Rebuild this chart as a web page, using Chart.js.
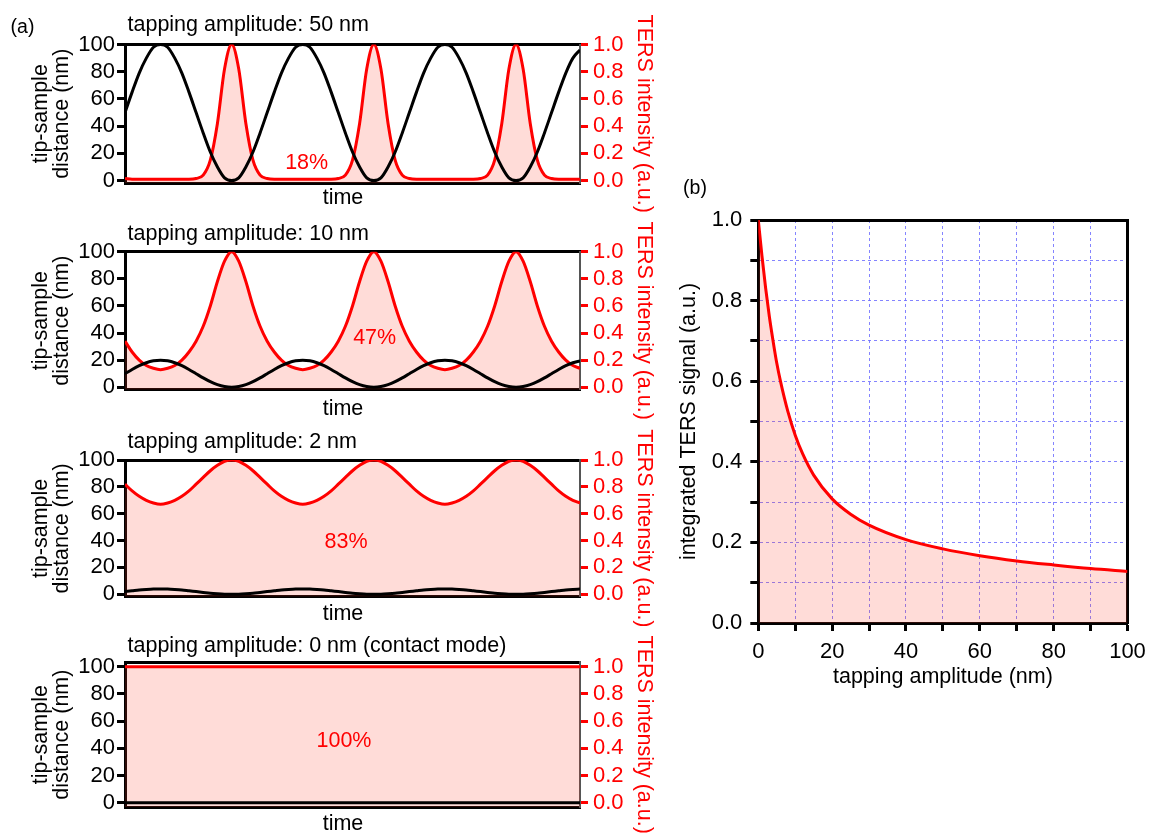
<!DOCTYPE html>
<html>
<head>
<meta charset="utf-8">
<script src="https://cdn.jsdelivr.net/npm/chart.js@4.4.0/dist/chart.umd.min.js"></script>
<style>
  body { margin: 0; background: #fff; }
  #page { position: relative; width: 1149px; height: 834px; overflow: hidden; font-family: 'Liberation Sans', Arial, Helvetica, sans-serif; }
  canvas { position: absolute; }
  .lbl { position: absolute; white-space: nowrap; line-height: 1; font-size: 21.5px; color: #000; }
  .c { transform: translate(-50%, -50%); }
  .red { color: #ff0000; }
</style>
</head>
<body>
<div id="page">
  <canvas id="p1" width="665" height="215" style="left:0;top:0"></canvas>
  <canvas id="p2" width="665" height="210" style="left:0;top:215px"></canvas>
  <canvas id="p3" width="665" height="205" style="left:0;top:425px"></canvas>
  <canvas id="p4" width="665" height="204" style="left:0;top:630px"></canvas>
  <canvas id="pb" width="490" height="530" style="left:665px;top:170px"></canvas>

  <div class="lbl c" style="left:22.5px;top:27px;font-size:19.5px">(a)</div>
  <div class="lbl c" style="left:695px;top:188px;font-size:19.5px">(b)</div>

  <div class="lbl" style="left:127.5px;top:14.3px">tapping amplitude: 50 nm</div>
  <div class="lbl" style="left:127.5px;top:223.3px">tapping amplitude: 10 nm</div>
  <div class="lbl" style="left:127.5px;top:430.8px">tapping amplitude: 2 nm</div>
  <div class="lbl" style="left:127.5px;top:635.1px">tapping amplitude: 0 nm (contact mode)</div>

  <div class="lbl c" style="left:343px;top:197.8px">time</div>
  <div class="lbl c" style="left:343px;top:409.2px">time</div>
  <div class="lbl c" style="left:343px;top:614px">time</div>
  <div class="lbl c" style="left:343px;top:823.7px">time</div>

  <div class="lbl c red" style="left:306.7px;top:162.5px">18%</div>
  <div class="lbl c red" style="left:374.7px;top:337.5px">47%</div>
  <div class="lbl c red" style="left:346px;top:542px">83%</div>
  <div class="lbl c red" style="left:344px;top:740.5px">100%</div>
</div>

<script>
// time axis (in oscillation periods)
const timeGrid = [0, 0.05, 0.1, 0.15, 0.2, 0.25, 0.3, 0.35, 0.4, 0.45, 0.5, 0.55, 0.6, 0.65, 0.7, 0.75, 0.8, 0.85, 0.9, 0.95,
    1, 1.05, 1.1, 1.15, 1.2, 1.25, 1.3, 1.35, 1.4, 1.45, 1.5, 1.55, 1.6, 1.65, 1.7, 1.75, 1.8, 1.85, 1.9, 1.95,
    2, 2.05, 2.1, 2.15, 2.2, 2.25, 2.3, 2.35, 2.4, 2.45, 2.5, 2.55, 2.6, 2.65, 2.7, 2.75, 2.8, 2.85, 2.9, 2.95,
    3, 3.05, 3.1, 3.15, 3.2];

// 50 nm tapping
const distance50 = [50, 65, 79, 90, 98, 100, 98, 90, 79, 65, 50, 35, 21, 10, 2, 0, 2, 10, 21, 35,
    50, 65, 79, 90, 98, 100, 98, 90, 79, 65, 50, 35, 21, 10, 2, 0, 2, 10, 21, 35,
    50, 65, 79, 90, 98, 100, 98, 90, 79, 65, 50, 35, 21, 10, 2, 0, 2, 10, 21, 35,
    50, 65, 79, 90, 96];
const intensity50 = [0.015, 0.01, 0.01, 0.01, 0.01, 0.01, 0.01, 0.01, 0.01, 0.01, 0.015, 0.04, 0.15, 0.42, 0.82, 1, 0.82, 0.42, 0.15, 0.04,
    0.015, 0.01, 0.01, 0.01, 0.01, 0.01, 0.01, 0.01, 0.01, 0.01, 0.015, 0.04, 0.15, 0.42, 0.82, 1, 0.82, 0.42, 0.15, 0.04,
    0.015, 0.01, 0.01, 0.01, 0.01, 0.01, 0.01, 0.01, 0.01, 0.01, 0.015, 0.04, 0.15, 0.42, 0.82, 1, 0.82, 0.42, 0.15, 0.04,
    0.015, 0.01, 0.01, 0.01, 0.01];

// 10 nm tapping
const distance10 = [10, 13.1, 15.9, 18.1, 19.5, 20, 19.5, 18.1, 15.9, 13.1, 10, 6.9, 4.1, 1.9, 0.5, 0, 0.5, 1.9, 4.1, 6.9,
    10, 13.1, 15.9, 18.1, 19.5, 20, 19.5, 18.1, 15.9, 13.1, 10, 6.9, 4.1, 1.9, 0.5, 0, 0.5, 1.9, 4.1, 6.9,
    10, 13.1, 15.9, 18.1, 19.5, 20, 19.5, 18.1, 15.9, 13.1, 10, 6.9, 4.1, 1.9, 0.5, 0, 0.5, 1.9, 4.1, 6.9,
    10, 13.1, 15.9, 18.1, 19.5];
const intensity10 = [0.34, 0.26, 0.2, 0.16, 0.14, 0.13, 0.14, 0.16, 0.2, 0.26, 0.34, 0.45, 0.6, 0.78, 0.93, 1, 0.93, 0.78, 0.6, 0.45,
    0.34, 0.26, 0.2, 0.16, 0.14, 0.13, 0.14, 0.16, 0.2, 0.26, 0.34, 0.45, 0.6, 0.78, 0.93, 1, 0.93, 0.78, 0.6, 0.45,
    0.34, 0.26, 0.2, 0.16, 0.14, 0.13, 0.14, 0.16, 0.2, 0.26, 0.34, 0.45, 0.6, 0.78, 0.93, 1, 0.93, 0.78, 0.6, 0.45,
    0.34, 0.26, 0.2, 0.16, 0.14];

// 2 nm tapping
const distance2 = [2, 2.6, 3.2, 3.6, 3.9, 4, 3.9, 3.6, 3.2, 2.6, 2, 1.4, 0.8, 0.4, 0.1, 0, 0.1, 0.4, 0.8, 1.4,
    2, 2.6, 3.2, 3.6, 3.9, 4, 3.9, 3.6, 3.2, 2.6, 2, 1.4, 0.8, 0.4, 0.1, 0, 0.1, 0.4, 0.8, 1.4,
    2, 2.6, 3.2, 3.6, 3.9, 4, 3.9, 3.6, 3.2, 2.6, 2, 1.4, 0.8, 0.4, 0.1, 0, 0.1, 0.4, 0.8, 1.4,
    2, 2.6, 3.2, 3.6, 3.9];
const intensity2 = [0.82, 0.77, 0.73, 0.7, 0.68, 0.67, 0.68, 0.7, 0.73, 0.77, 0.82, 0.87, 0.92, 0.96, 0.99, 1, 0.99, 0.96, 0.92, 0.87,
    0.82, 0.77, 0.73, 0.7, 0.68, 0.67, 0.68, 0.7, 0.73, 0.77, 0.82, 0.87, 0.92, 0.96, 0.99, 1, 0.99, 0.96, 0.92, 0.87,
    0.82, 0.77, 0.73, 0.7, 0.68, 0.67, 0.68, 0.7, 0.73, 0.77, 0.82, 0.87, 0.92, 0.96, 0.99, 1, 0.99, 0.96, 0.92, 0.87,
    0.82, 0.77, 0.73, 0.7, 0.68];

// contact mode
const contactTime = [0, 3.2];
const distance0 = [0, 0];
const intensity0 = [1, 1];

const distanceTicks = [0, 20, 40, 60, 80, 100];
const intensityTicks = [0, 0.2, 0.4, 0.6, 0.8, 1.0];

// panel (b)
const amplitudeValues = [0, 1, 2, 3, 4, 5, 6, 8, 10, 12, 15, 20, 25, 30, 40, 50, 60, 70, 80, 90, 100];
const signalValues = [1.0, 0.91, 0.83, 0.76, 0.70, 0.645, 0.60, 0.525, 0.466, 0.42, 0.367, 0.308, 0.27, 0.243, 0.207, 0.184, 0.167, 0.154, 0.144, 0.135, 0.128];
const amplitudeTicks = [0, 10, 20, 30, 40, 50, 60, 70, 80, 90, 100];
const signalTicks = [0, 0.1, 0.2, 0.3, 0.4, 0.5, 0.6, 0.7, 0.8, 0.9, 1.0];

const RED = '#ff0000';
const PINK = 'rgba(255, 60, 40, 0.18)';
const GRID = 'rgba(110, 110, 255, 0.85)';

Chart.defaults.font.family = "'Liberation Sans', Arial, Helvetica, sans-serif";
Chart.defaults.font.size = 22;
Chart.defaults.color = '#000';

function pts(xs, ys) {
    return xs.map((x, i) => ({ x: x, y: ys[i] }));
}

function setTicks(list) {
    return function(scale) {
        scale.ticks = list.map(v => ({ value: v }));
    };
}

// one tapping-mode panel: black distance on the left axis, red TERS on the right axis
function tappingChart(id, times, dist, ters, box) {
    const canvas = document.getElementById(id);
    const W = canvas.width, H = canvas.height;
    return new Chart(canvas, {
        type: 'line',
        data: {
            datasets: [
                {
                    data: pts(times, dist),
                    yAxisID: 'y',
                    borderColor: '#000',
                    borderWidth: 3,
                    pointRadius: 0,
                    fill: false,
                    cubicInterpolationMode: 'monotone',
                },
                {
                    data: pts(times, ters),
                    yAxisID: 'y1',
                    borderColor: RED,
                    backgroundColor: PINK,
                    borderWidth: 3,
                    pointRadius: 0,
                    fill: 'start',
                    cubicInterpolationMode: 'monotone',
                },
            ],
        },
        options: {
            responsive: false,
            animation: false,
            events: [],
            layout: { padding: 0 },
            plugins: { legend: { display: false }, tooltip: { enabled: false } },
            scales: {
                x: {
                    type: 'linear', position: 'bottom', min: 0, max: 3.2,
                    ticks: { display: false },
                    grid: { display: false },
                    border: { width: 3, color: '#000' },
                    afterFit: s => { s.height = H - box.bottom; },
                },
                xTop: {
                    type: 'linear', position: 'top', min: 0, max: 3.2,
                    ticks: { display: false },
                    grid: { display: false },
                    border: { width: 3, color: '#000' },
                    afterFit: s => { s.height = box.top; },
                },
                y: {
                    type: 'linear', position: 'left', min: box.min, max: box.max,
                    afterBuildTicks: setTicks(distanceTicks),
                    ticks: { autoSkip: false, padding: 2, callback: v => String(v) },
                    grid: { drawOnChartArea: false, tickLength: 8, tickWidth: 3, tickColor: '#000' },
                    border: { width: 3, color: '#000' },
                    title: {
                        display: true,
                        text: ['tip-sample', 'distance (nm)'],
                        font: { size: 21.5, lineHeight: 0.95 },
                        padding: { top: 31, bottom: 0 },
                    },
                    afterFit: s => { s.width = 125; },
                },
                y1: {
                    type: 'linear', position: 'right', min: box.min / 100, max: box.max / 100,
                    afterBuildTicks: setTicks(intensityTicks),
                    ticks: { autoSkip: false, padding: 5, color: RED, callback: v => v.toFixed(1) },
                    grid: { drawOnChartArea: false, tickLength: 8, tickWidth: 3, tickColor: RED },
                    border: { width: 2, color: '#555' },
                    title: {
                        display: true,
                        text: 'TERS intensity (a.u.)',
                        color: RED,
                        font: { size: 21.5, lineHeight: 1 },
                        padding: { top: 10.5, bottom: 0 },
                    },
                    afterFit: s => { s.width = W - 580; },
                },
            },
        },
    });
}

tappingChart('p1', timeGrid, distance50, intensity50, { top: 44.5, bottom: 183, min: -1.8, max: 100 });
tappingChart('p2', timeGrid, distance10, intensity10, { top: 36.7, bottom: 174.7, min: -1.8, max: 100 });
tappingChart('p3', timeGrid, distance2, intensity2, { top: 35, bottom: 171.7, min: -1.8, max: 100 });
tappingChart('p4', contactTime, distance0, intensity0, { top: 32.2, bottom: 177.2, min: -3.3, max: 103.3 });

// panel (b): integrated signal vs amplitude
const canvasB = document.getElementById('pb');
const HB = canvasB.height;
new Chart(canvasB, {
    type: 'line',
    data: {
        datasets: [
            {
                data: pts(amplitudeValues, signalValues),
                borderColor: RED,
                backgroundColor: PINK,
                borderWidth: 3,
                pointRadius: 0,
                fill: 'origin',
                cubicInterpolationMode: 'monotone',
            },
        ],
    },
    options: {
        responsive: false,
        animation: false,
        events: [],
        layout: { padding: 0 },
        plugins: { legend: { display: false }, tooltip: { enabled: false } },
        scales: {
            x: {
                type: 'linear', position: 'bottom', min: 0, max: 100,
                afterBuildTicks: setTicks(amplitudeTicks),
                ticks: { autoSkip: false, maxRotation: 0, padding: 8, callback: v => (v % 20 === 0 ? String(v) : '') },
                grid: { color: GRID, lineWidth: 1, tickLength: 8, tickWidth: 3, tickColor: '#000' },
                border: { width: 3, color: '#000', dash: [3, 3] },
                title: {
                    display: true,
                    text: 'tapping amplitude (nm)',
                    font: { size: 21.5, lineHeight: 1 },
                    padding: { top: 0, bottom: 12.25 },
                },
                afterFit: s => { s.height = HB - 453; },
            },
            xTop: {
                type: 'linear', position: 'top', min: 0, max: 100,
                ticks: { display: false },
                grid: { display: false },
                border: { width: 3, color: '#000' },
                afterFit: s => { s.height = 50; },
            },
            y: {
                type: 'linear', position: 'left', min: 0, max: 1,
                afterBuildTicks: setTicks(signalTicks),
                ticks: { autoSkip: false, padding: 8, callback: v => (Math.round(v * 10) % 2 === 0 ? v.toFixed(1) : '') },
                grid: { color: GRID, lineWidth: 1, tickLength: 8, tickWidth: 3, tickColor: '#000' },
                border: { width: 3, color: '#000', dash: [3, 3] },
                title: {
                    display: true,
                    text: 'integrated TERS signal (a.u.)',
                    font: { size: 21.5, lineHeight: 1 },
                    padding: { top: 13.75, bottom: 0 },
                },
                afterFit: s => { s.width = 93.3; },
            },
            yR: {
                type: 'linear', position: 'right', min: 0, max: 1,
                ticks: { display: false },
                grid: { display: false },
                border: { width: 3, color: '#000' },
                afterFit: s => { s.width = 27.5; },
            },
        },
    },
});
</script>
</body>
</html>
